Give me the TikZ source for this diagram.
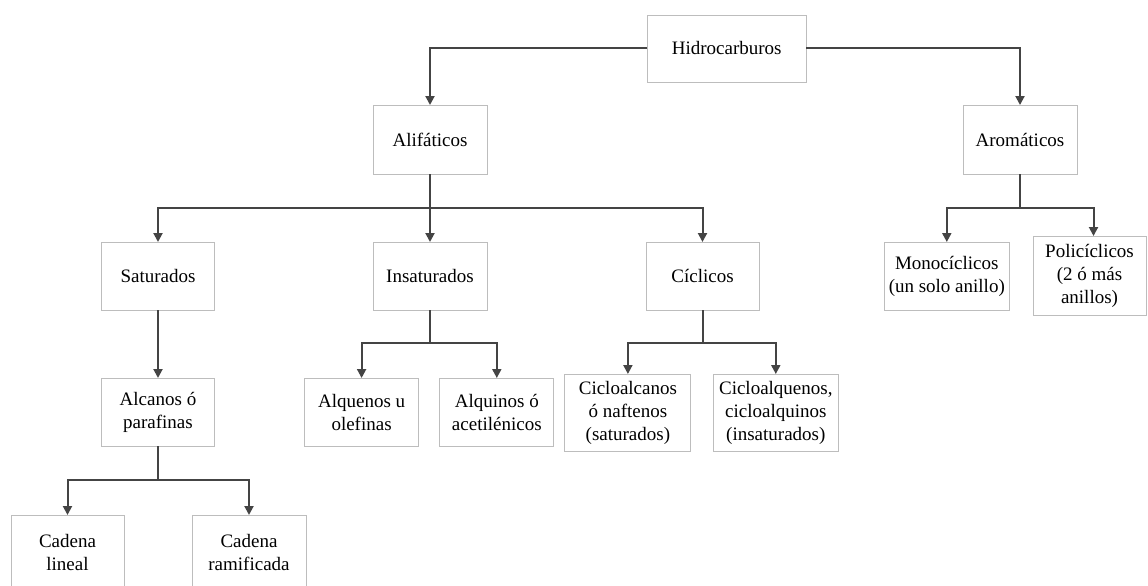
\documentclass[tikz,border=0pt]{standalone}
\usepackage{fontspec}
\setmainfont{Liberation Serif}
\usetikzlibrary{arrows.meta}
\definecolor{boxgray}{HTML}{BDBDBD}
\definecolor{conngray}{HTML}{444444}
\begin{document}
\begin{tikzpicture}[x=1pt,y=-1pt,
  box/.style={draw=boxgray, line width=0.9pt, rectangle, inner sep=0pt, outer sep=0pt, align=center, font=\fontsize{19}{23}\selectfont, text=black},
  conn/.style={draw=conngray, line width=2pt, -{Triangle[length=9pt,width=9pt]}}]
\clip (0,0) rectangle (1148,586);
\fill[white] (0,0) rectangle (1148,586);

\node[box, minimum width=159, minimum height=67] (hid) at (726.7,48.5) {Hidrocarburos};
\node[box, minimum width=114, minimum height=69] (ali) at (430,139.5) {Alifáticos};
\node[box, minimum width=114, minimum height=69] (aro) at (1020,139.5) {Aromáticos};
\node[box, minimum width=113, minimum height=68] (sat) at (158,276) {Saturados};
\node[box, minimum width=114, minimum height=68] (ins) at (430,276) {Insaturados};
\node[box, minimum width=113, minimum height=68] (cic) at (702.5,276) {Cíclicos};
\node[box, minimum width=125, minimum height=68] (mono) at (946.8,276) {Monocíclicos\\(un solo anillo)};
\node[box, minimum width=113, minimum height=79] (poli) at (1089.5,275.5) {Policíclicos\\(2 ó más\\anillos)};
\node[box, minimum width=113, minimum height=68] (alc) at (158,412) {Alcanos ó\\parafinas};
\node[box, minimum width=114, minimum height=68] (alq) at (361.6,412) {Alquenos u\\olefinas};
\node[box, minimum width=114, minimum height=68] (alqi) at (496.8,412) {Alquinos ó\\acetilénicos};
\node[box, minimum width=126, minimum height=77] (cica) at (627.9,412.5) {Cicloalcanos\\ó naftenos\\(saturados)};
\node[box, minimum width=125, minimum height=77] (cice) at (775.8,412.5) {Cicloalquenos,\\cicloalquinos\\(insaturados)};
\node[box, minimum width=113, minimum height=74] (lin) at (67.5,552) {Cadena\\lineal};
\node[box, minimum width=114, minimum height=74] (ram) at (249,552) {Cadena\\ramificada};

\draw[conn] (hid.west) -| (ali.north);
\draw[conn] (hid.east) -| (aro.north);
\draw[conn] (ali.south) -- (ins.north);
\draw[conn] (ali.south) -- ++(0,34) -| (sat.north);
\draw[conn] (ali.south) -- ++(0,34) -| (cic.north);
\draw[conn] (sat.south) -- (alc.north);
\draw[conn] (alc.south) -- ++(0,34) -| (lin.north);
\draw[conn] (alc.south) -- ++(0,34) -| (ram.north);
\draw[conn] (ins.south) -- ++(0,33) -| (alq.north);
\draw[conn] (ins.south) -- ++(0,33) -| (alqi.north);
\draw[conn] (cic.south) -- ++(0,33) -| (cica.north);
\draw[conn] (cic.south) -- ++(0,33) -| (cice.north);
\draw[conn] (aro.south) -- ++(0,34) -| (mono.north);
\draw[conn] (aro.south) -- ++(0,34) -| ([xshift=4pt]poli.north);
\end{tikzpicture}
\end{document}
